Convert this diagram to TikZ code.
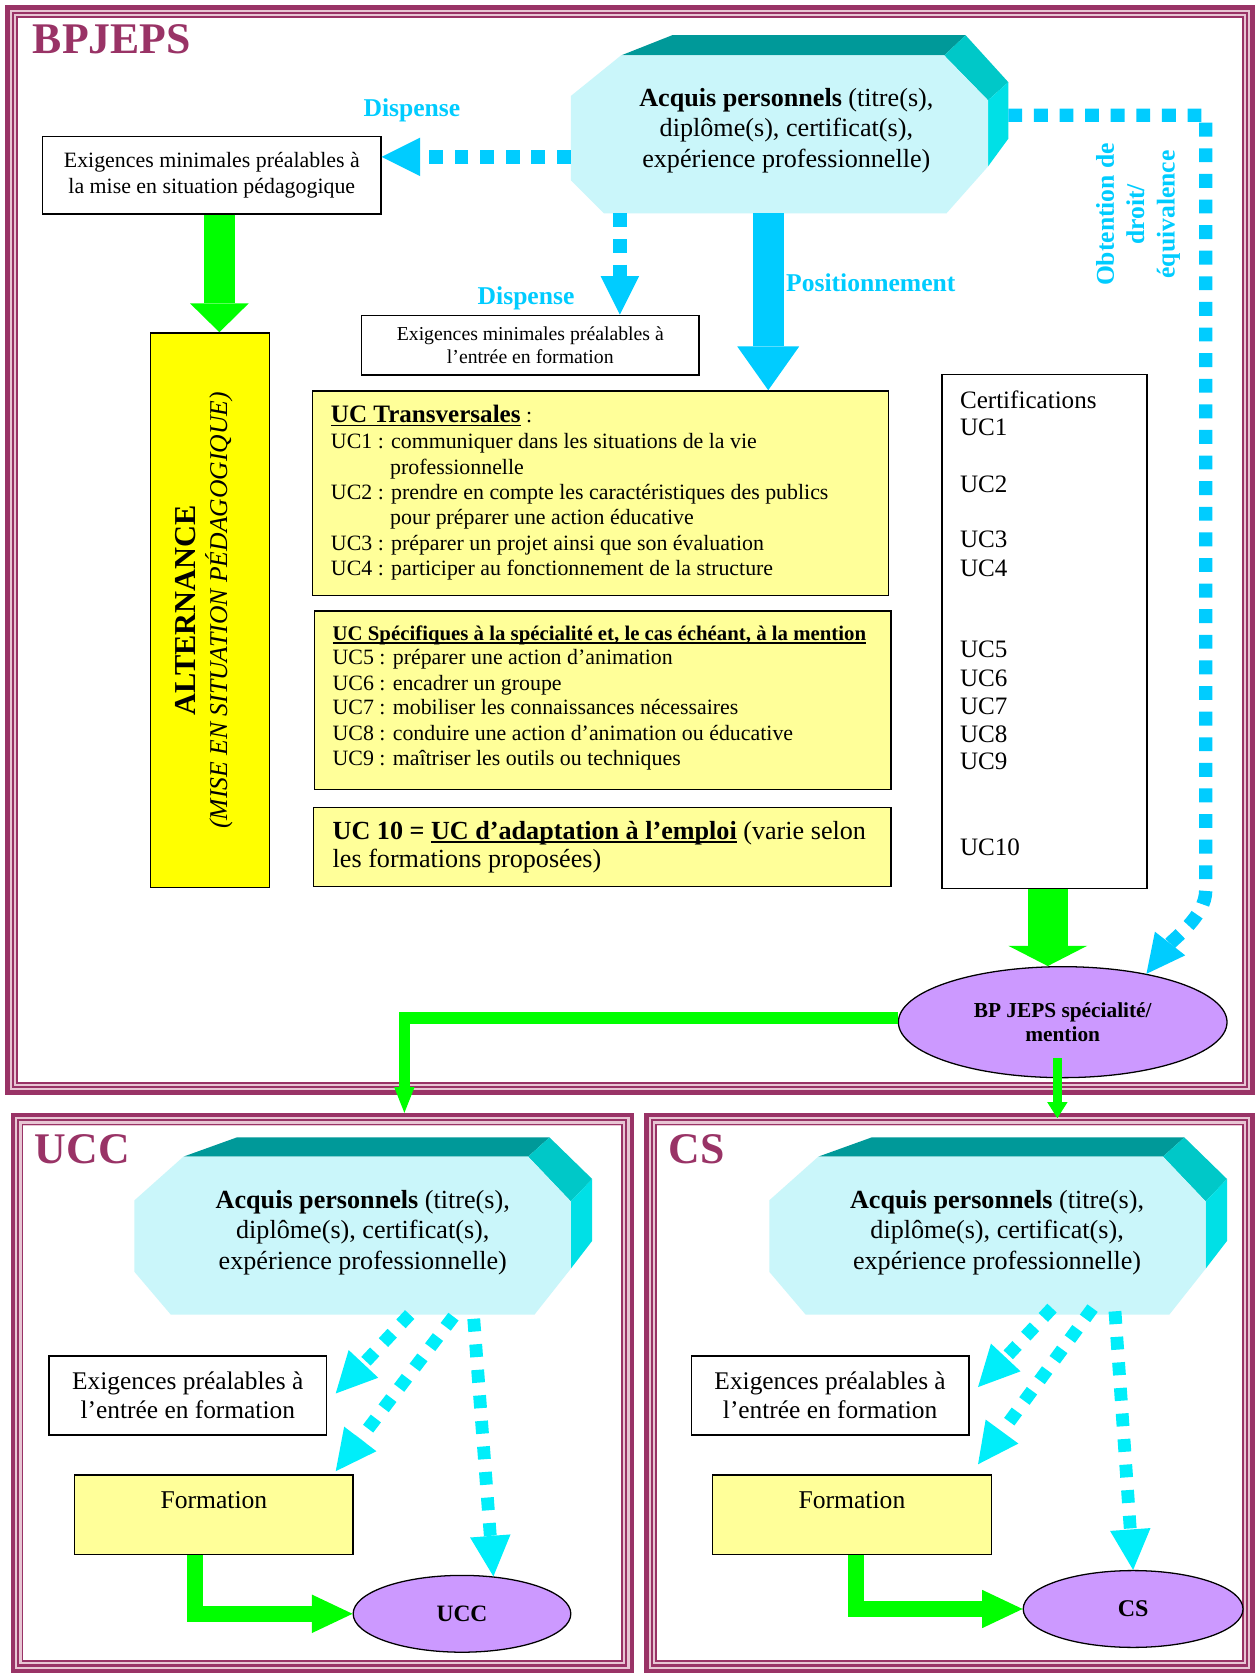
\documentclass[tikz,border=0pt]{standalone}
\usepackage{fontspec}
\setmainfont{Liberation Serif}
\usetikzlibrary{arrows.meta,shapes.geometric,calc}
\definecolor{maroon}{HTML}{993366}
\definecolor{fpink}{HTML}{E8C6D4}
\definecolor{skyc}{HTML}{00CCFF}
\definecolor{aquac}{HTML}{00EEFA}
\definecolor{grn}{HTML}{00FF00}
\definecolor{ylw}{HTML}{FFFF00}
\definecolor{lylw}{HTML}{FFFF99}
\definecolor{lav}{HTML}{CC99FF}
\definecolor{tealA}{HTML}{009999}
\definecolor{tealB}{HTML}{00C8C8}
\definecolor{tealC}{HTML}{00E0E6}
\definecolor{face}{HTML}{CAF6FA}
\newcommand{\fs}[2]{\fontsize{#1}{#2}\selectfont}
\newcommand{\myul}[1]{\setbox0=\hbox{#1}\rlap{\rule[-3.5pt]{\wd0}{1.6pt}}\box0}
\newcommand{\tframe}[4]{%
  \fill[fpink] (#1,#2) rectangle (#3,#4);
  \fill[white] ($(#1,#2)+(12,12)$) rectangle ($(#3,#4)+(-12,-12)$);
  \draw[maroon,line width=4pt] ($(#1,#2)+(2,2)$) rectangle ($(#3,#4)+(-2,-2)$);
  \draw[maroon,line width=2pt] ($(#1,#2)+(7,7)$) rectangle ($(#3,#4)+(-7,-7)$);
  \draw[maroon,line width=1.5pt] ($(#1,#2)+(11,11)$) rectangle ($(#3,#4)+(-11,-11)$);}
\newcommand{\acqshape}{%
  \fill[tealA] (172,1084) -- (222,1066) -- (515,1066) -- (495,1084) -- cycle;
  \fill[tealB] (495,1084) -- (515,1066) -- (555,1105) -- (535,1126) -- cycle;
  \fill[tealC] (535,1126) -- (555,1105) -- (555,1163) -- (535,1189) -- cycle;
  \fill[face] (172,1084) -- (495,1084) -- (535,1126) -- (535,1189) -- (501,1232) -- (160,1232) -- (126,1192) -- (126,1125) -- cycle;}
\begin{document}
\begin{tikzpicture}[x=1pt,y=-1pt,
  box/.style={draw=black, line width=1.3pt, inner sep=0pt},
  txt/.style={inner sep=0pt},
  title/.style={inner sep=0pt, anchor=base west, text=maroon, font=\bfseries\fs{41}{41}},
  lbl/.style={inner sep=0pt, text=skyc, font=\bfseries\fs{24}{28.5}},
  uctext/.style={inner sep=0pt, anchor=base west, font=\fs{20.5}{24}},
  certtext/.style={inner sep=0pt, anchor=base west, font=\fs{23.5}{26}},
  acqtext/.style={inner sep=0pt, align=center, font=\fs{24.5}{28.5}},
  dotsky/.style={draw=skyc, line width=12.5pt, dash pattern=on 13pt off 11pt, -{Triangle[width=36pt,length=36pt,line width=0pt]}},
  dotaqua/.style={draw=aquac, line width=12pt, dash pattern=on 12pt off 12pt, -{Triangle[width=38pt,length=38pt,line width=0pt]}},
  grnline/.style={draw=grn}
]
\useasboundingbox (0,0) rectangle (1177,1568);
% frames
\tframe{5}{5}{1176}{1026}
\tframe{10}{1043}{594}{1568}
\tframe{604}{1043}{1176}{1568}
% titles
\node[title] (tbp) at (30.6,50) {BPJEPS};
\node[title] (tucc) at (32.5,1090) {UCC};
\node[title] (tcs) at (626.7,1090) {CS};
% top octagon
\fill[tealA] (582,52) -- (630,33) -- (905,33) -- (885,52) -- cycle;
\fill[tealB] (885,52) -- (905,33) -- (945,77) -- (926,94) -- cycle;
\fill[tealC] (926,94) -- (945,77) -- (945,130) -- (926,156) -- cycle;
\fill[face] (582,52) -- (885,52) -- (926,94) -- (926,156) -- (887,200) -- (566,200) -- (535,169) -- (535,90) -- cycle;
\node[acqtext] (acq) at (737,122.5) {\textbf{Acquis personnels} (titre(s),\\ diplôme(s), certificat(s),\\ expérience professionnelle)};
% bottom octagons
\acqshape
\begin{scope}[xshift=595pt]\acqshape\end{scope}
\node[acqtext] (uacq) at (340,1155) {\textbf{Acquis personnels} (titre(s),\\ diplôme(s), certificat(s),\\ expérience professionnelle)};
\node[acqtext] (cacq) at (934.5,1155) {\textbf{Acquis personnels} (titre(s),\\ diplôme(s), certificat(s),\\ expérience professionnelle)};
% boxes
\node[box, fill=white, minimum width=317pt, minimum height=72.5pt, align=center, font=\fs{20.5}{24.5}] (exig1) at (198.5,164.3) {Exigences minimales préalables à\\ la mise en situation pédagogique};
\node[box, fill=white, minimum width=316pt, minimum height=56pt, align=center, font=\fs{18.5}{21}] (exig2) at (497,323.5) {Exigences minimales préalables à\\ l’entrée en formation};
\node[box, fill=ylw, minimum width=111pt, minimum height=520pt] (alt) at (196.8,572) {};
\node[txt, rotate=90, align=center, font=\fs{24}{30}] (altt) at (191,572) {{\bfseries\fs{28.5}{30}ALTERNANCE}\\ \itshape (MISE EN SITUATION PÉDAGOGIQUE)};
\node[box, fill=lylw, minimum width=540.4pt, minimum height=191.6pt] (uct) at (562.8,462.2) {};
\node[box, fill=lylw, minimum width=540pt, minimum height=167.4pt] (ucs) at (565,656.3) {};
\node[box, fill=lylw, minimum width=541pt, minimum height=73.8pt] (uc10) at (564.5,793.9) {};
\node[box, fill=white, minimum width=192pt, minimum height=482pt] (cert) at (979,592) {};
% UC transversales
\node[uctext] (t0) at (310,396) {{\bfseries\fs{23.5}{24}\myul{UC Transversales}} :};
\node[uctext] (t1) at (310,420.5) {UC1 : communiquer dans les situations de la vie};
\node[uctext] (t1b) at (365.5,444.7) {professionnelle};
\node[uctext] (t2) at (310,468) {UC2 : prendre en compte les caractéristiques des publics};
\node[uctext] (t2b) at (365.5,492) {pour préparer une action éducative};
\node[uctext] (t3) at (310,515.6) {UC3 : préparer un projet ainsi que son évaluation};
\node[uctext] (t4) at (310,539.5) {UC4 : participer au fonctionnement de la structure};
% UC specifiques
\node[uctext, font=\bfseries\fs{19.5}{24}] (s0) at (311.6,600) {\myul{UC Spécifiques à la spécialité et, le cas échéant, à la mention}};
\node[uctext] (s5) at (311.6,622.8) {UC5 : préparer une action d’animation};
\node[uctext] (s6) at (311.6,646.7) {UC6 : encadrer un groupe};
\node[uctext] (s7) at (311.6,670) {UC7 : mobiliser les connaissances nécessaires};
\node[uctext] (s8) at (311.6,694) {UC8 : conduire une action d’animation ou éducative};
\node[uctext] (s9) at (311.6,717.3) {UC9 : maîtriser les outils ou techniques};
% UC10
\node[uctext, font=\fs{24.5}{28}] (u10a) at (311.6,786.6) {{\bfseries UC 10 = \myul{UC d’adaptation à l’emploi}} (varie selon};
\node[uctext, font=\fs{24.5}{28}] (u10b) at (311.6,813) {les formations proposées)};
% certifications
\node[certtext] (c0) at (899.6,382.4) {Certifications};
\node[certtext] (c1) at (899.6,408.4) {UC1};
\node[certtext] (c2) at (899.6,461.6) {UC2};
\node[certtext] (c3) at (899.6,513.3) {UC3};
\node[certtext] (c4) at (899.6,540) {UC4};
\node[certtext] (c5) at (899.6,616.5) {UC5};
\node[certtext] (c6) at (899.6,643.8) {UC6};
\node[certtext] (c7) at (899.6,669.7) {UC7};
\node[certtext] (c8) at (899.6,695.5) {UC8};
\node[certtext] (c9) at (899.6,721.4) {UC9};
\node[certtext] (c10) at (899.6,802) {UC10};
% BP ellipse
\node[ellipse, draw=black, line width=1.2pt, fill=lav, minimum width=308pt, minimum height=104pt, inner sep=0pt, align=center, font=\bfseries\fs{20}{23.3}] (bp) at (996,958) {BP JEPS spécialité/\\ mention};
% labels
\node[lbl, anchor=base west] (d1) at (340.5,109.3) {Dispense};
\node[lbl, anchor=base west] (d2) at (447.5,285.8) {Dispense};
\node[lbl, anchor=base west] (pos) at (736.6,273.3) {Positionnement};
\node[lbl, rotate=90, align=center] (obt) at (1066.6,201) {Obtention de\\ droit/\\ équivalence};
% bottom boxes
\node[box, fill=white, minimum width=260pt, minimum height=74pt, align=center, font=\fs{23.8}{27.5}] (uex) at (176,1308) {Exigences préalables à\\ l’entrée en formation};
\node[box, fill=lylw, minimum width=261pt, minimum height=74.5pt, text height=31.5pt, text depth=43pt, font=\fs{24}{28}] (ufor) at (200.5,1419.75) {Formation};
\node[ellipse, draw=black, line width=1.2pt, fill=lav, minimum width=204pt, minimum height=72pt, inner sep=0pt, font=\bfseries\fs{22}{24}] (ucc) at (433,1512.5) {UCC};
\node[box, fill=white, minimum width=260pt, minimum height=74pt, align=center, font=\fs{23.8}{27.5}] (cex) at (778,1308) {Exigences préalables à\\ l’entrée en formation};
\node[box, fill=lylw, minimum width=261pt, minimum height=74.5pt, text height=31.5pt, text depth=43pt, font=\fs{24}{28}] (cfor) at (798.5,1419.75) {Formation};
\node[ellipse, draw=black, line width=1.2pt, fill=lav, minimum width=206pt, minimum height=72pt, inner sep=0pt, font=\bfseries\fs{22.5}{24}] (cs) at (1062,1508) {CS};
% coordinates
\coordinate (acqW) at (535,147);
\coordinate (acqS1) at (581,200);
\coordinate (acqS2) at (720,200);
\coordinate (acqE) at (945,108);
\coordinate (rcorner) at (1130,108);
\coordinate (rbend) at (1130,835);
\coordinate (rc1) at (1130,858);
\coordinate (rc2) at (1100,880);
\coordinate (g1x) at (205.6,0);
\coordinate (g2x) at (982,0);
\coordinate (uccTop) at (379,1043);
\coordinate (bpS) at (991,992);
\coordinate (csTop) at (991,1048);
\coordinate (ua1) at (384,1232);
\coordinate (ua2) at (425,1234);
\coordinate (ua3) at (444,1236);
\coordinate (ugx) at (182.5,0);
\coordinate (ca1) at (986,1226);
\coordinate (ca2) at (1024,1226);
\coordinate (ca3) at (1045,1229);
\coordinate (cgx) at (802,0);
% top connectors
\draw[dotsky] (acqW) -- (acqW -| exig1.east);
\draw[dotsky] (acqS1) -- (exig2.north -| acqS1);
\draw[draw=skyc, line width=29pt, -{Triangle[width=58pt,length=41pt,line width=0pt]}] (acqS2) -- (uct.north -| acqS2);
\draw[dotsky] (acqE) -- (rcorner) -- (rbend) .. controls (rc1) and (rc2) .. (bp.30);
% green connectors
\draw[grnline, line width=28.8pt, -{Triangle[width=55pt,length=27pt,line width=0pt]}] (exig1.south -| g1x) -- (alt.north -| g1x);
\draw[grnline, line width=38pt, -{Triangle[width=74pt,length=19pt,line width=0pt]}] (cert.south -| g2x) -- (bp.north -| g2x);
\draw[grnline, line width=11pt, -{Triangle[width=19pt,length=24pt,line width=0pt]}] ([yshift=4pt]bp.west) -| (uccTop);
\draw[grnline, line width=9pt, -{Triangle[width=19pt,length=15pt,line width=0pt]}] (bpS) -- (csTop);
% UCC connectors
\draw[dotaqua] (ua1) -- ([xshift=8pt,yshift=2pt]uex.east);
\draw[dotaqua] (ua2) -- ([xshift=-17pt,yshift=3pt]ufor.north east);
\draw[dotaqua] (ua3) -- (ucc.50);
\draw[grnline, line width=15pt, -{Triangle[width=36pt,length=38pt,line width=0pt]}] (ufor.south -| ugx) |- (ucc.west);
% CS connectors
\draw[dotaqua] (ca1) -- ([xshift=8pt,yshift=8pt]cex.east);
\draw[dotaqua] (ca2) -- ([xshift=-13pt,yshift=9.5pt]cfor.north east);
\draw[dotaqua] (ca3) -- (cs.north);
\draw[grnline, line width=15pt, -{Triangle[width=36pt,length=38pt,line width=0pt]}] (cfor.south -| cgx) |- (cs.west);
\end{tikzpicture}
\end{document}
